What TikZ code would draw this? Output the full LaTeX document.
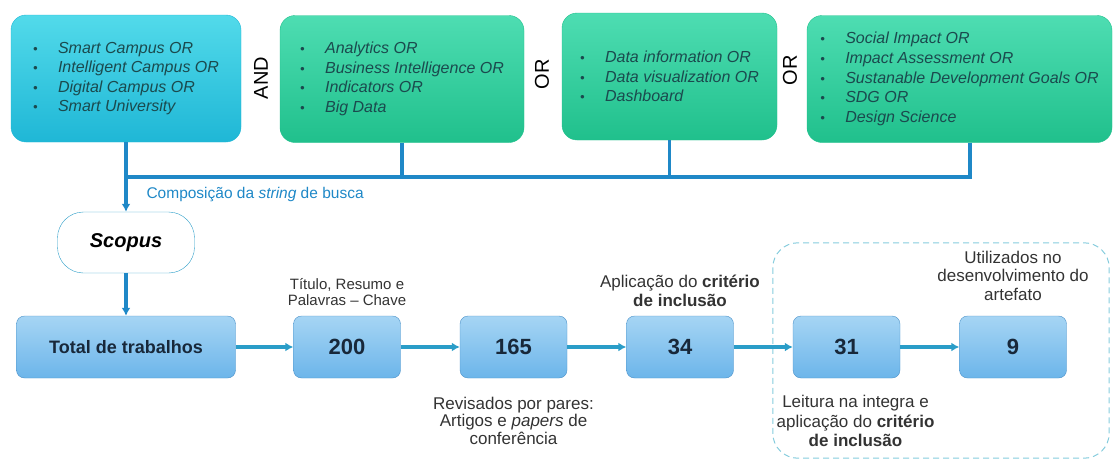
\documentclass[tikz,border=0pt]{standalone}
\usepackage{fontspec}
\setmainfont{Liberation Sans}
\usepackage{xcolor}
\usetikzlibrary{arrows.meta}
\usetikzlibrary{positioning}
\usetikzlibrary{backgrounds}
\definecolor{cyantop}{HTML}{52DAEA}
\definecolor{cyanbot}{HTML}{1FB7D6}
\definecolor{greentop}{HTML}{4EDDB2}
\definecolor{greenbot}{HTML}{20C08C}
\definecolor{steptop}{HTML}{A6D5F4}
\definecolor{stepbot}{HTML}{6CB5EA}
\definecolor{stepline}{HTML}{4C92C9}
\definecolor{linkblue}{HTML}{1F88C7}
\definecolor{flowblue}{HTML}{2A9DC8}
\definecolor{termtext}{HTML}{1B4A4E}
\definecolor{numtext}{HTML}{18283A}
\definecolor{notetext}{HTML}{333333}
\definecolor{groupline}{HTML}{86CCDD}
\newcommand{\term}[1]{\makebox[25pt][l]{\fontsize{13}{13}\selectfont\textbullet}#1}
\tikzstyle{terms}=[rectangle, rounded corners=15pt, align=left,
        minimum height=127pt, text=termtext,
        font=\fontsize{16}{19.6}\selectfont\itshape]
\tikzstyle{campus}=[terms, draw=cyanbot, top color=cyantop, bottom color=cyanbot]
\tikzstyle{topic}=[terms, draw=greenbot, top color=greentop, bottom color=greenbot]
\tikzstyle{logic}=[rotate=90, font=\fontsize{20}{20}\selectfont]
\tikzstyle{source}=[rectangle, rounded corners=26pt, draw=flowblue, fill=white,
        minimum width=137pt, minimum height=61pt,
        font=\fontsize{20}{20}\selectfont\bfseries\itshape]
\tikzstyle{stepbox}=[rectangle, rounded corners=8pt, draw=stepline,
        top color=steptop, bottom color=stepbot,
        minimum width=107pt, minimum height=62pt, text=numtext,
        font=\fontsize{22}{22}\selectfont\bfseries]
\tikzstyle{note}=[align=center, inner sep=0pt, text=notetext,
        font=\fontsize{17}{18.5}\selectfont]
\tikzstyle{link}=[draw=linkblue, line width=3.2pt]
\tikzstyle{flow}=[draw=flowblue, line width=3.2pt]
\tikzstyle{groupframe}=[draw=groupline, line width=1pt, dash pattern=on 6pt off 4pt,
        rounded corners=25pt]

\begin{document}
\begin{tikzpicture}
      [x=1pt, y=-1pt, node distance=166.5pt, >={Latex[length=8pt,width=9pt]}]
      \useasboundingbox (0,0) rectangle (1114,463);
      % Search terms
      \node [campus, minimum width=230pt] (campus) at (126,78.5)
        {\term{Smart Campus OR}\\\term{Intelligent Campus OR}\\\term{Digital Campus OR}\\\term{Smart University}};
      \node [topic, minimum width=244pt] (analytics) at (402,79)
        {\term{Analytics OR}\\\term{Business Intelligence OR}\\\term{Indicators OR}\\\term{Big Data}};
      \node [topic, minimum width=215pt] (dataviz) at (669.5,76.5)
        {\term{Data information OR}\\\term{Data visualization OR}\\\term{Dashboard}};
      \node [topic, minimum width=305pt] (impact) at (959.5,79)
        {\term{Social Impact OR}\\\term{Impact Assessment OR}\\\term{Sustanable Development Goals OR}\\\term{SDG OR}\\\term{Design Science}};
      \node [logic] (and) at (261,78) {AND};
      \node [logic] (or1) at (542,74) {OR};
      \node [logic] (or2) at (790,70) {OR};
      \coordinate (join) at (126,177);
      \node [anchor=west, text=linkblue, font=\fontsize{15.5}{15.5}\selectfont] (busca) at (143,195)
        {Composição da \textit{string} de busca};
      % Selection steps
      \node [stepbox, minimum width=219pt, font=\fontsize{18}{18}\selectfont\bfseries] (total) at (126,347) {Total de trabalhos};
      \node [source, above of=total, node distance=104.5pt] (scopus) {Scopus};
      \node [stepbox, right of=total, node distance=221pt] (n200) {200};
      \node [stepbox, right of=n200] (n165) {165};
      \node [stepbox, right of=n165] (n34) {34};
      \node [stepbox, right of=n34] (n31) {31};
      \node [stepbox, right of=n31] (n9) {9};
      % Notes
      \node [note, above=10pt of n200, font=\fontsize{15}{16}\selectfont] (t200) {Título, Resumo e\\Palavras – Chave};
      \node [note, below=18.5pt of n165, font=\fontsize{17}{17.5}\selectfont] (t165) {Revisados por pares:\\Artigos e \textit{papers} de\\conferência};
      \node [note, above=9pt of n34] (t34) {Aplicação do \textbf{critério}\\\textbf{de inclusão}};
      \node [note, below=17pt of n31, xshift=9pt, font=\fontsize{17}{19.5}\selectfont] (t31) {Leitura na integra e\\aplicação do \textbf{critério}\\\textbf{de inclusão}};
      \node [note, above=15pt of n9] (t9) {Utilizados no\\desenvolvimento do\\artefato};
      % Draw edges
      \draw [link] (analytics.south) |- (join);
      \draw [link] (dataviz.south) |- (join);
      \draw [link] ([xshift=10.5pt]impact.south) |- (join);
      \draw [link, ->] (campus.south) -- (scopus.north);
      \draw [link, ->] (scopus.south) -- (total.north);
      \draw [flow, ->] (total) -- (n200);
      \draw [flow, ->] (n200) -- (n165);
      \draw [flow, ->] (n165) -- (n34);
      \draw [flow, ->] (n34) -- (n31);
      \draw [flow, ->] (n31) -- (n9);
      \begin{pgfonlayer}{background}
        \draw [groupframe] ([xshift=-20pt,yshift=73pt]n31.north west) rectangle ([xshift=42.5pt,yshift=-80pt]n9.south east);
      \end{pgfonlayer}
\end{tikzpicture}
\end{document}
